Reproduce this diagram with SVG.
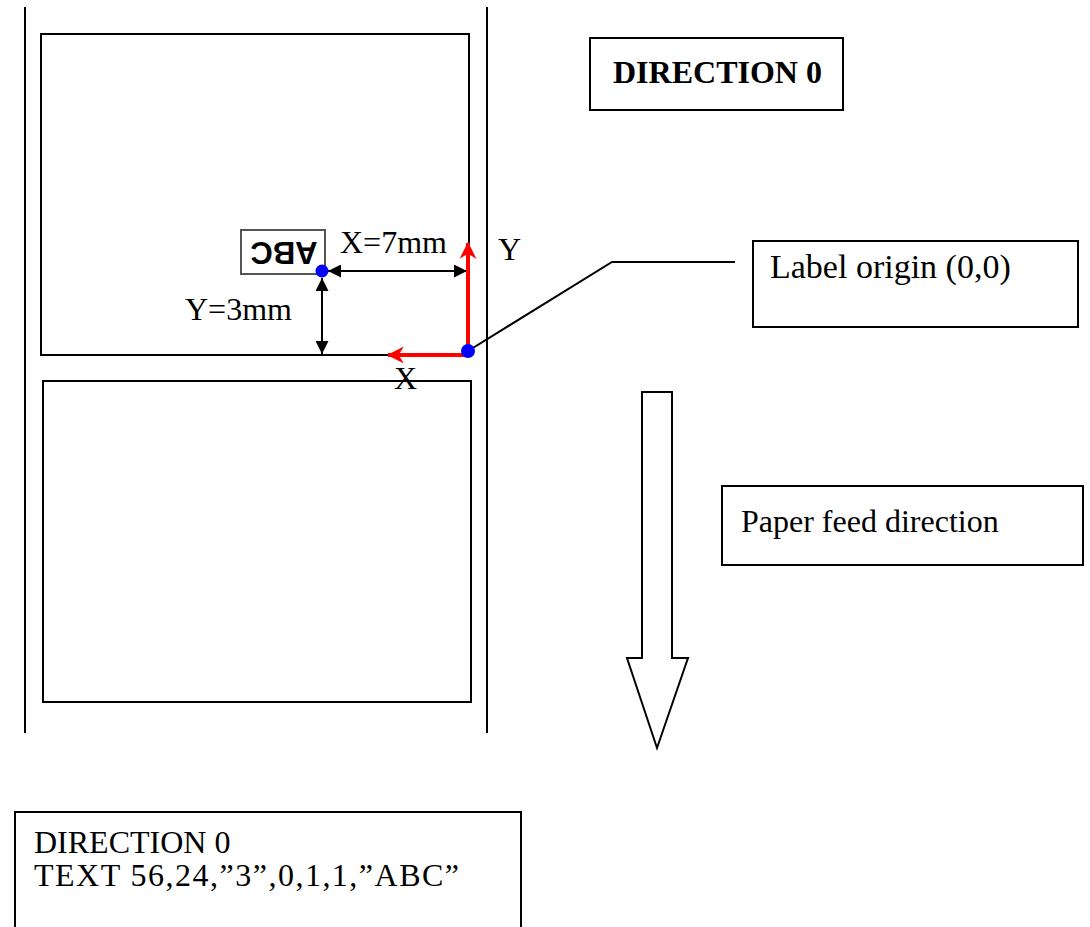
<svg xmlns="http://www.w3.org/2000/svg" width="1090" height="927" viewBox="0 0 1090 927">
<style>
.ln{stroke:#000;stroke-width:2;fill:none}
.bx{stroke:#000;stroke-width:2;fill:#fff}
.t{font-family:"Liberation Serif","Times New Roman",serif;font-size:32px;fill:#000}
.tb{font-family:"Liberation Serif","Times New Roman",serif;font-size:32px;font-weight:bold;fill:#000}
.red{stroke:#f00;stroke-width:4;fill:none}
</style>
<defs>
<marker id="ah" viewBox="0 0 13 13" refX="13" refY="6.5" markerWidth="13" markerHeight="13" orient="auto-start-reverse" markerUnits="userSpaceOnUse"><path d="M0,0 L13,6.5 L0,13 z" fill="#000"/></marker>
<marker id="rh" viewBox="0 0 16 16" refX="15" refY="8" markerWidth="17" markerHeight="17" orient="auto" markerUnits="userSpaceOnUse"><path d="M0,0 L16,8 L0,16 L5,8 z" fill="#f00"/></marker>
</defs>
<g id="paper">
<line class="ln" x1="25" y1="7" x2="25" y2="733"/>
<line class="ln" x1="487" y1="7" x2="487" y2="733"/>
</g>
<g id="label1"><rect class="bx" x="41" y="34" width="428" height="321"/></g>
<g id="label2"><rect class="bx" x="43" y="381" width="428" height="321"/></g>
<g id="abc">
<rect x="241" y="230" width="84" height="44" fill="#fff" stroke="#555" stroke-width="2"/>
<text transform="translate(284,252.5) rotate(180)" x="0" y="11" text-anchor="middle" font-family="Liberation Sans,Arial,sans-serif" font-weight="bold" font-size="31">ABC</text>
</g>
<g id="connectors">
<line class="ln" stroke-width="1.5" x1="328" y1="271" x2="467" y2="271" marker-start="url(#ah)" marker-end="url(#ah)"/>
<line class="ln" stroke-width="1.5" x1="322" y1="278" x2="322" y2="354" marker-start="url(#ah)" marker-end="url(#ah)"/>
<line class="red" x1="468" y1="353" x2="468" y2="243" marker-end="url(#rh)"/>
<line class="red" x1="470" y1="355" x2="388" y2="355" marker-end="url(#rh)"/>
<polyline class="ln" stroke-width="1.5" points="468,351 612,262 735,262"/>
</g>
<g id="origin-dot"><circle cx="468" cy="351" r="7" fill="#00f"/></g>
<g id="text-dot"><circle cx="322" cy="271" r="6.5" fill="#00f"/></g>
<g id="axis-labels">
<text class="t" x="340" y="253">X=7mm</text>
<text class="t" x="498" y="260">Y</text>
<text class="t" x="185" y="320">Y=3mm</text>
<text class="t" x="394" y="389">X</text>
</g>
<g id="direction-box"><rect class="bx" x="590" y="38" width="253" height="72"/><text class="tb" x="613" y="83">DIRECTION 0</text></g>
<g id="origin-box"><rect class="bx" x="753" y="241" width="325" height="86"/><text class="t" x="770" y="278" style="font-size:34px">Label origin (0,0)</text></g>
<g id="feed-box"><rect class="bx" x="722" y="486" width="361" height="79"/><text class="t" x="741" y="532">Paper feed direction</text></g>
<g id="feed-arrow"><polygon class="bx" points="642,392 672,392 672,658 688,658 657,748 627,658 642,658"/></g>
<g id="code-box"><polyline class="ln" points="15,927 15,812 521,812 521,927"/>
<text class="t" x="34" y="853">DIRECTION 0</text>
<text class="t" x="34" y="886" textLength="425" lengthAdjust="spacing">TEXT 56,24,”3”,0,1,1,”ABC”</text></g>
</svg>
